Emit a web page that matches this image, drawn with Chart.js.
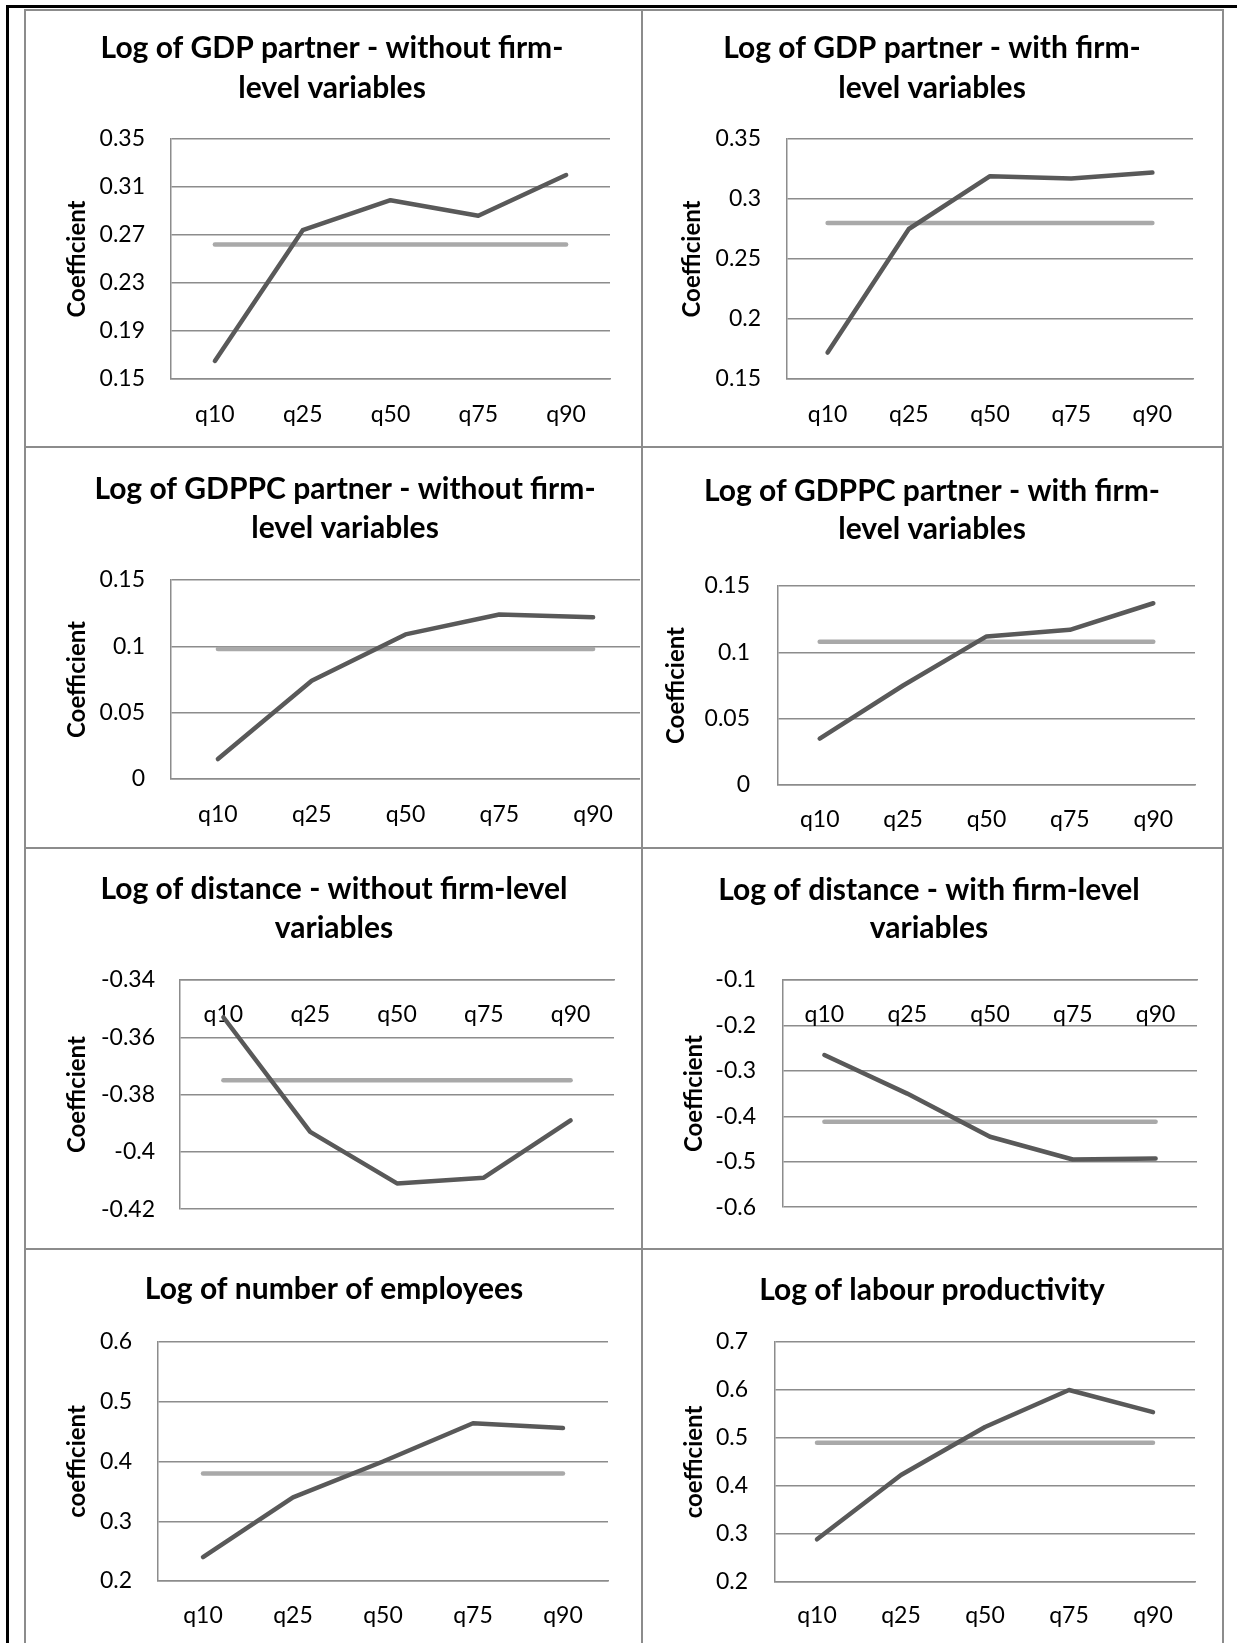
<!DOCTYPE html>
<html>
<head>
<meta charset="utf-8">
<title>Quantile regression coefficients</title>
<script src="https://cdn.jsdelivr.net/npm/chart.js@4.4.1/dist/chart.umd.min.js"></script>
<style>
  html, body { margin: 0; padding: 0; background: #fff; }
  body { width: 1237px; height: 1643px; position: relative; overflow: hidden; }
  canvas { position: absolute; }
  .rule { position: absolute; background: #8c8c8c; }
  .ink { position: absolute; background: #000; }
</style>
</head>
<body>
<!-- outer page frame -->
<div class="ink" style="left:6px;top:5px;width:3px;height:1638px"></div>
<div class="ink" style="left:6px;top:5px;width:1231px;height:3px"></div>
<!-- chart frames -->
<div class="rule" style="left:24px;top:9px;width:2px;height:1634px"></div>
<div class="rule" style="left:641px;top:9px;width:2px;height:1634px"></div>
<div class="rule" style="left:1222px;top:9px;width:2px;height:1634px"></div>
<div class="rule" style="left:24px;top:9px;width:1200px;height:2px"></div>
<div class="rule" style="left:24px;top:446px;width:1200px;height:2px"></div>
<div class="rule" style="left:24px;top:847px;width:1200px;height:2px"></div>
<div class="rule" style="left:24px;top:1248px;width:1200px;height:2px"></div>

<script>
// ---- categories ----
const quantiles = ['q10', 'q25', 'q50', 'q75', 'q90'];

// ---- quantile coefficients (dark line) and OLS coefficient (light line) ----
const gdpWithout      = [0.165, 0.274, 0.299, 0.286, 0.320];
const gdpWithoutOls   = [0.262, 0.262, 0.262, 0.262, 0.262];
const gdpWith         = [0.172, 0.275, 0.319, 0.317, 0.322];
const gdpWithOls      = [0.280, 0.280, 0.280, 0.280, 0.280];
const gdppcWithout    = [0.015, 0.074, 0.109, 0.124, 0.122];
const gdppcWithoutOls = [0.098, 0.098, 0.098, 0.098, 0.098];
const gdppcWith       = [0.035, 0.075, 0.112, 0.117, 0.137];
const gdppcWithOls    = [0.108, 0.108, 0.108, 0.108, 0.108];
const distWithout     = [-0.353, -0.393, -0.411, -0.409, -0.389];
const distWithoutOls  = [-0.375, -0.375, -0.375, -0.375, -0.375];
const distWith        = [-0.265, -0.350, -0.445, -0.495, -0.493];
const distWithOls     = [-0.412, -0.412, -0.412, -0.412, -0.412];
const employees       = [0.240, 0.340, 0.400, 0.464, 0.456];
const employeesOls    = [0.380, 0.380, 0.380, 0.380, 0.380];
const productivity    = [0.289, 0.423, 0.523, 0.600, 0.554];
const productivityOls = [0.490, 0.490, 0.490, 0.490, 0.490];

// ---- value-axis tick labels ----
const gdpWithoutTicks   = [0.15, 0.19, 0.23, 0.27, 0.31, 0.35];
const gdpWithTicks      = [0.15, 0.2, 0.25, 0.3, 0.35];
const gdppcWithoutTicks = [0, 0.05, 0.1, 0.15];
const gdppcWithTicks    = [0, 0.05, 0.1, 0.15];
const distWithoutTicks  = [-0.42, -0.4, -0.38, -0.36, -0.34];
const distWithTicks     = [-0.6, -0.5, -0.4, -0.3, -0.2, -0.1];
const employeesTicks    = [0.2, 0.3, 0.4, 0.5, 0.6];
const productivityTicks = [0.2, 0.3, 0.4, 0.5, 0.6, 0.7];

// ---- titles ----
const titles = [
  ['Log of GDP partner - without firm-', 'level variables'],
  ['Log of GDP partner - with firm-', 'level variables'],
  ['Log of GDPPC partner - without firm-', 'level variables'],
  ['Log of GDPPC partner - with firm-', 'level variables'],
  ['Log of distance - without firm-level', 'variables'],
  ['Log of distance - with firm-level', 'variables'],
  ['Log of number of employees'],
  ['Log of labour productivity']
];
const yTitles = ['Coefficient', 'Coefficient', 'Coefficient', 'Coefficient',
                 'Coefficient', 'Coefficient', 'coefficient', 'coefficient'];

// ---- page layout: box = canvas [x, y, w, h]; plot = [left, top, right, bottom] ----
const panels = [
  { values: gdpWithout, ols: gdpWithoutOls, ticks: gdpWithoutTicks,
    box: [26, 11, 615, 435], plot: [171, 139, 610, 379], titleX: 332, titleY: [48, 88],
    yTitleX: 77, tickRight: 145, axis: 'bottom', labelY: 415 },
  { values: gdpWith, ols: gdpWithOls, ticks: gdpWithTicks,
    box: [643, 11, 579, 435], plot: [787, 139, 1193, 379], titleX: 932, titleY: [48, 88],
    yTitleX: 692, tickRight: 761, axis: 'bottom', labelY: 415 },
  { values: gdppcWithout, ols: gdppcWithoutOls, ticks: gdppcWithoutTicks,
    box: [26, 448, 614, 399], plot: [171, 580, 640, 779], titleX: 345, titleY: [489, 528],
    yTitleX: 77, tickRight: 145, axis: 'bottom', labelY: 815 },
  { values: gdppcWith, ols: gdppcWithOls, ticks: gdppcWithTicks,
    box: [643, 448, 579, 399], plot: [778, 586, 1195, 785], titleX: 932, titleY: [491, 529],
    yTitleX: 676, tickRight: 750, axis: 'bottom', labelY: 820 },
  { values: distWithout, ols: distWithoutOls, ticks: distWithoutTicks,
    box: [26, 849, 615, 399], plot: [180, 980, 614, 1219], titleX: 334, titleY: [889, 928],
    yTitleX: 77, tickRight: 155, axis: 'top', labelY: 1015 },
  { values: distWith, ols: distWithOls, ticks: distWithTicks,
    box: [643, 849, 579, 399], plot: [783, 980, 1197, 1219], titleX: 929, titleY: [890, 928],
    yTitleX: 694, tickRight: 756, axis: 'top', labelY: 1015 },
  { values: employees, ols: employeesOls, ticks: employeesTicks,
    box: [26, 1250, 615, 393], plot: [158, 1342, 608, 1581], titleX: 334, titleY: [1289],
    yTitleX: 77, tickRight: 132, axis: 'bottom', labelY: 1616 },
  { values: productivity, ols: productivityOls, ticks: productivityTicks,
    box: [643, 1250, 579, 393], plot: [775, 1342, 1195, 1582], titleX: 932, titleY: [1290],
    yTitleX: 694, tickRight: 748, axis: 'bottom', labelY: 1616 }
];

const FONT = 'Lato, "Open Sans", sans-serif';
const GRID = '#8c8c8c';
const DARK = '#595959';
const LIGHT = '#a9a9a9';
const TICK_SIZE = 23;
const TICK_LH = TICK_SIZE * 1.2;
const YTITLE_SIZE = 24;
const TITLE_SIZE = 30;

// chart heading drawn centred on the chart frame
const panelTitle = {
  id: 'panelTitle',
  afterDraw(chart, args, opts) {
    const ctx = chart.ctx;
    ctx.save();
    ctx.font = `bold ${TITLE_SIZE}px ${FONT}`;
    ctx.fillStyle = '#000';
    ctx.textAlign = 'center';
    ctx.textBaseline = 'middle';
    opts.lines.forEach((t, k) => ctx.fillText(t, opts.x, opts.y[k]));
    ctx.restore();
  }
};

panels.forEach((p, i) => {
  const [bx, by, bw, bh] = p.box;
  const [L, T, R, B] = p.plot;
  const atBottom = p.axis === 'bottom';

  const cv = document.createElement('canvas');
  cv.width = bw; cv.height = bh;
  cv.style.left = bx + 'px'; cv.style.top = by + 'px';
  cv.style.width = bw + 'px'; cv.style.height = bh + 'px';
  document.body.appendChild(cv);

  new Chart(cv, {
    type: 'line',
    data: {
      labels: quantiles,
      datasets: [
        { data: p.values, borderColor: DARK, borderWidth: 4.5, pointRadius: 0,
          tension: 0, borderCapStyle: 'round', borderJoinStyle: 'round', fill: false },
        { data: p.ols, borderColor: LIGHT, borderWidth: 4.5, pointRadius: 0,
          tension: 0, borderCapStyle: 'round', borderJoinStyle: 'round', fill: false }
      ]
    },
    options: {
      responsive: false,
      animation: false,
      devicePixelRatio: 1,
      events: [],
      layout: { padding: { left: 0, top: T - by, right: bx + bw - R, bottom: atBottom ? 0 : by + bh - B } },
      plugins: {
        legend: { display: false },
        tooltip: { enabled: false },
        title: { display: false },
        panelTitle: { lines: titles[i], x: p.titleX - bx, y: p.titleY.map(v => v - by) }
      },
      scales: {
        x: {
          type: 'category',
          position: p.axis,
          offset: true,
          grid: { display: false, drawTicks: false },
          border: { display: true, color: GRID, width: 1.5 },
          ticks: {
            font: { family: FONT, size: TICK_SIZE },
            color: '#000',
            maxRotation: 0, minRotation: 0, autoSkip: false,
            // top axis: labels sit inside the plot, just under the axis line
            mirror: !atBottom,
            padding: atBottom ? (p.labelY - B - TICK_LH / 2) : (p.labelY - T - TICK_LH / 2)
          },
          afterFit(s) { s.height = atBottom ? (by + bh - B) : 0; }
        },
        y: {
          min: p.ticks[0],
          max: p.ticks[p.ticks.length - 1],
          grid: { color: GRID, lineWidth: 1.5, drawTicks: false },
          border: { display: true, color: GRID, width: 1.5 },
          ticks: {
            font: { family: FONT, size: TICK_SIZE },
            color: '#000',
            padding: L - p.tickRight,
            callback: v => String(v)
          },
          afterBuildTicks(s) { s.ticks = p.ticks.map(v => ({ value: v })); },
          afterFit(s) { s.width = L - bx; },
          title: {
            display: true,
            text: yTitles[i],
            color: '#000',
            font: { family: FONT, size: YTITLE_SIZE, weight: 'bold' },
            padding: { top: p.yTitleX - bx - YTITLE_SIZE * 0.6, bottom: 0 }
          }
        }
      }
    },
    plugins: [panelTitle]
  });
});
</script>
</body>
</html>
